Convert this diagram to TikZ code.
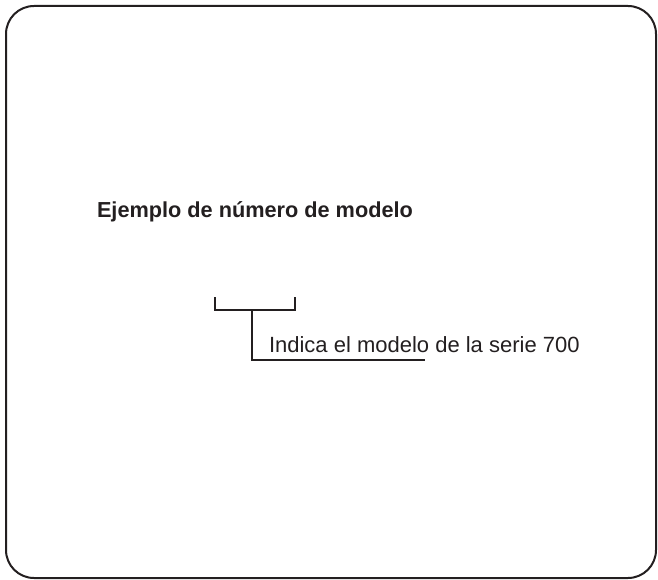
\documentclass[tikz,border=0pt]{standalone}
\usepackage{fontspec}
\setmainfont{Liberation Sans}
\usepackage{tikz}
\usetikzlibrary{calc}
\usepackage{xcolor}
\definecolor{inkgray}{HTML}{231F20}
\tikzset{bracket line/.style={draw=inkgray, line width=2.2pt, line cap=butt, line join=miter}}

\begin{document}
\begin{tikzpicture}[x=1pt, y=-1pt, every node/.style={inner sep=0pt, outer sep=0pt, text=inkgray}]
		\useasboundingbox (0,0) rectangle (658,580);
		% Frame
		\draw[inkgray, line width=2pt, rounded corners=28pt] (6,6) rectangle (656,578);

		% Title
		\node[anchor=base west, font=\bfseries\fontsize{21.7}{26}\selectfont] (title) at (97,217) {Ejemplo de número de modelo};

		% Bracket
		\coordinate (bl) at (215,297);
		\coordinate (br) at (295,297);
		\coordinate (stem) at (252,310);
		\coordinate (under) at (425,360);
		\draw[bracket line] (bl) -- (bl |- stem) -- (br |- stem) -- (br);
		\draw[bracket line] (stem) -- (stem |- under) -- (under);

		% Label
		\node[anchor=base west, font=\fontsize{22}{26}\selectfont] (label) at (269,352) {Indica el modelo de la serie 700};
	\end{tikzpicture}
\end{document}
